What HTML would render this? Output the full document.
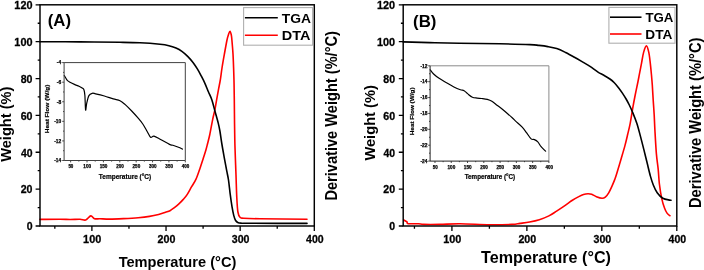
<!DOCTYPE html>
<html><head><meta charset="utf-8"><style>
html,body{margin:0;padding:0;background:#fff;}
body{width:704px;height:270px;overflow:hidden;}
svg{display:block;will-change:transform;}
text{font-family:"Liberation Sans", sans-serif;}
</style></head><body>
<svg width="704" height="270" viewBox="0 0 704 270" font-family='"Liberation Sans", sans-serif'>
<rect width="704" height="270" fill="#fff"/>
<path d="M35.60,226.00H40.00 M35.60,189.13H40.00 M35.60,152.27H40.00 M35.60,115.40H40.00 M35.60,78.53H40.00 M35.60,41.67H40.00 M35.60,4.80H40.00 M37.70,207.57H40.00 M37.70,170.70H40.00 M37.70,133.83H40.00 M37.70,96.97H40.00 M37.70,60.10H40.00 M37.70,23.23H40.00 M91.89,226.00V230.90 M166.03,226.00V230.90 M240.16,226.00V230.90 M314.30,226.00V230.90 M54.83,226.00V228.80 M128.96,226.00V228.80 M203.10,226.00V228.80 M277.23,226.00V228.80" stroke="#000" stroke-width="1.3" fill="none"/>
<path d="M40.00,219.40 C43.33,219.37 55.00,219.18 60.00,219.20 C65.00,219.22 66.67,219.48 70.00,219.50 C73.33,219.52 77.38,219.22 80.00,219.30 C82.62,219.38 83.90,220.57 85.70,220.00 C87.50,219.43 89.33,216.12 90.80,215.90 C92.27,215.68 92.97,218.22 94.50,218.70 C96.03,219.18 97.45,218.73 100.00,218.80 C102.55,218.87 105.90,219.13 109.80,219.10 C113.70,219.07 118.67,218.83 123.40,218.60 C128.13,218.37 133.85,218.07 138.20,217.70 C142.55,217.33 146.10,216.93 149.50,216.40 C152.90,215.87 155.93,215.18 158.60,214.50 C161.27,213.82 163.60,212.93 165.50,212.30 C167.40,211.67 168.52,211.48 170.00,210.70 C171.48,209.92 172.92,208.73 174.40,207.60 C175.88,206.47 177.42,205.27 178.90,203.90 C180.38,202.53 181.93,200.95 183.30,199.40 C184.67,197.85 185.72,196.72 187.10,194.60 C188.48,192.48 190.13,189.23 191.60,186.70 C193.07,184.17 194.53,182.37 195.90,179.40 C197.27,176.43 198.60,172.32 199.80,168.90 C201.00,165.48 202.08,162.05 203.10,158.90 C204.12,155.75 205.15,152.57 205.90,150.00 C206.65,147.43 206.95,146.08 207.60,143.50 C208.25,140.92 208.95,138.53 209.80,134.50 C210.65,130.47 211.85,123.45 212.70,119.30 C213.55,115.15 214.23,112.93 214.90,109.60 C215.57,106.27 216.08,102.75 216.70,99.30 C217.32,95.85 218.00,92.12 218.60,88.90 C219.20,85.68 219.73,83.48 220.30,80.00 C220.87,76.52 221.32,72.33 222.00,68.00 C222.68,63.67 223.57,58.67 224.40,54.00 C225.23,49.33 226.32,43.25 227.00,40.00 C227.68,36.75 228.00,35.97 228.50,34.50 C229.00,33.03 229.53,31.12 230.00,31.20 C230.47,31.28 230.98,33.53 231.30,35.00 C231.62,36.47 231.62,36.83 231.90,40.00 C232.18,43.17 232.72,49.33 233.00,54.00 C233.28,58.67 233.43,63.50 233.60,68.00 C233.77,72.50 233.88,75.67 234.00,81.00 C234.12,86.33 234.17,90.17 234.30,100.00 C234.43,109.83 234.52,127.50 234.80,140.00 C235.08,152.50 235.67,165.37 236.00,175.00 C236.33,184.63 236.48,191.63 236.80,197.80 C237.12,203.97 237.37,208.75 237.90,212.00 C238.43,215.25 239.05,216.27 240.00,217.30 C240.95,218.33 240.27,217.95 243.60,218.20 C246.93,218.45 249.43,218.63 260.00,218.80 C270.57,218.97 299.17,219.13 307.00,219.20" stroke="#ff0000" stroke-width="1.6" fill="none" stroke-linejoin="round" stroke-linecap="round"/>
<path d="M40.00,41.70 C46.67,41.73 66.67,41.80 80.00,41.90 C93.33,42.00 110.00,42.15 120.00,42.30 C130.00,42.45 133.33,42.47 140.00,42.80 C146.67,43.13 155.18,43.82 160.00,44.30 C164.82,44.78 166.23,45.07 168.90,45.70 C171.57,46.33 173.83,47.15 176.00,48.10 C178.17,49.05 179.92,49.98 181.90,51.40 C183.88,52.82 186.05,54.75 187.90,56.60 C189.75,58.45 191.40,60.40 193.00,62.50 C194.60,64.60 196.13,66.97 197.50,69.20 C198.87,71.43 199.97,73.55 201.20,75.90 C202.43,78.25 203.68,80.62 204.90,83.30 C206.12,85.98 207.33,89.22 208.50,92.00 C209.67,94.78 210.80,96.72 211.90,100.00 C213.00,103.28 214.03,107.80 215.10,111.70 C216.17,115.60 217.50,120.18 218.30,123.40 C219.10,126.62 219.33,127.73 219.90,131.00 C220.47,134.27 220.97,138.53 221.70,143.00 C222.43,147.47 223.47,153.18 224.30,157.80 C225.13,162.42 226.00,167.00 226.70,170.70 C227.40,174.40 227.92,176.08 228.50,180.00 C229.08,183.92 229.62,189.75 230.20,194.20 C230.78,198.65 231.40,203.13 232.00,206.70 C232.60,210.27 233.20,213.30 233.80,215.60 C234.40,217.90 234.87,219.32 235.60,220.50 C236.33,221.68 237.17,222.25 238.20,222.70 C239.23,223.15 239.83,223.10 241.80,223.20 C243.77,223.30 239.13,223.27 250.00,223.30 C260.87,223.33 297.50,223.38 307.00,223.40" stroke="#000" stroke-width="1.6" fill="none" stroke-linejoin="round" stroke-linecap="round"/>
<rect x="40.00" y="4.80" width="274.30" height="221.20" stroke="#000" stroke-width="1.45" fill="none"/>
<text x="26.63" y="230.28" font-size="11.582" font-weight="bold" fill="#000" stroke="#000" stroke-width="0.3" textLength="5.85" lengthAdjust="spacingAndGlyphs">0</text>
<text x="20.68" y="193.42" font-size="11.582" font-weight="bold" fill="#000" stroke="#000" stroke-width="0.3" textLength="11.81" lengthAdjust="spacingAndGlyphs">20</text>
<text x="20.89" y="156.55" font-size="11.582" font-weight="bold" fill="#000" stroke="#000" stroke-width="0.3" textLength="11.59" lengthAdjust="spacingAndGlyphs">40</text>
<text x="20.66" y="119.68" font-size="11.582" font-weight="bold" fill="#000" stroke="#000" stroke-width="0.3" textLength="11.83" lengthAdjust="spacingAndGlyphs">60</text>
<text x="20.71" y="82.82" font-size="11.582" font-weight="bold" fill="#000" stroke="#000" stroke-width="0.3" textLength="11.78" lengthAdjust="spacingAndGlyphs">80</text>
<text x="14.37" y="45.95" font-size="11.582" font-weight="bold" fill="#000" stroke="#000" stroke-width="0.3" textLength="18.14" lengthAdjust="spacingAndGlyphs">100</text>
<text x="14.37" y="9.08" font-size="11.582" font-weight="bold" fill="#000" stroke="#000" stroke-width="0.3" textLength="18.14" lengthAdjust="spacingAndGlyphs">120</text>
<text x="83.11" y="242.53" font-size="11.582" font-weight="bold" fill="#000" stroke="#000" stroke-width="0.3" textLength="18.14" lengthAdjust="spacingAndGlyphs">100</text>
<text x="157.56" y="242.53" font-size="11.582" font-weight="bold" fill="#000" stroke="#000" stroke-width="0.3" textLength="17.82" lengthAdjust="spacingAndGlyphs">200</text>
<text x="231.82" y="242.52" font-size="11.566" font-weight="bold" fill="#000" stroke="#000" stroke-width="0.3" textLength="17.68" lengthAdjust="spacingAndGlyphs">300</text>
<text x="306.04" y="242.53" font-size="11.582" font-weight="bold" fill="#000" stroke="#000" stroke-width="0.3" textLength="17.60" lengthAdjust="spacingAndGlyphs">400</text>
<text x="118.64" y="266.80" font-size="15.552" font-weight="bold" fill="#000" textLength="117.70" lengthAdjust="spacingAndGlyphs">Temperature (°C)</text>
<text transform="translate(11.30,161.81) rotate(-90)" x="0" y="0" font-size="14.390" font-weight="bold" fill="#000" textLength="75.25" lengthAdjust="spacingAndGlyphs">Weight (%)</text>
<text transform="translate(337.10,200.58) rotate(-90)" x="0" y="0" font-size="15.698" font-weight="bold" fill="#000" textLength="169.51" lengthAdjust="spacingAndGlyphs">Derivative Weight (%/°C)</text>
<text x="47.76" y="26.29" font-size="16.399" font-weight="bold" fill="#000" textLength="23.28" lengthAdjust="spacingAndGlyphs">(A)</text>
<rect x="243.6" y="7.6" width="69.00" height="37.60" stroke="#b0b0b0" stroke-width="1.1" fill="#fff"/>
<path d="M244.9,17.8H277.8" stroke="#000" stroke-width="1.6"/>
<path d="M244.9,35.3H277.8" stroke="#ff0000" stroke-width="1.6"/>
<text x="281.85" y="22.56" font-size="13.559" font-weight="bold" fill="#000" textLength="29.21" lengthAdjust="spacingAndGlyphs">TGA</text>
<text x="281.73" y="40.30" font-size="13.663" font-weight="bold" fill="#000" textLength="28.64" lengthAdjust="spacingAndGlyphs">DTA</text>
<path d="M70.65,160.50V162.40 M87.03,160.50V162.40 M103.41,160.50V162.40 M119.79,160.50V162.40 M136.16,160.50V162.40 M152.54,160.50V162.40 M168.92,160.50V162.40 M185.30,160.50V162.40 M78.84,160.50V161.60 M95.22,160.50V161.60 M111.60,160.50V161.60 M127.98,160.50V161.60 M144.35,160.50V161.60 M160.73,160.50V161.60 M177.11,160.50V161.60 M62.20,62.60H64.10 M62.20,82.18H64.10 M62.20,101.76H64.10 M62.20,121.34H64.10 M62.20,140.92H64.10 M62.20,160.50H64.10 M63.00,72.39H64.10 M63.00,91.97H64.10 M63.00,111.55H64.10 M63.00,131.13H64.10 M63.00,150.71H64.10" stroke="#333" stroke-width="0.9" fill="none"/>
<path d="M64.30,75.60 C64.52,75.97 65.10,77.00 65.60,77.80 C66.10,78.60 66.57,79.67 67.30,80.40 C68.03,81.13 68.82,81.53 70.00,82.20 C71.18,82.87 72.90,83.73 74.40,84.40 C75.90,85.07 77.70,85.60 79.00,86.20 C80.30,86.80 81.37,87.37 82.20,88.00 C83.03,88.63 83.55,88.73 84.00,90.00 C84.45,91.27 84.63,92.27 84.90,95.60 C85.17,98.93 85.30,108.72 85.60,110.00 C85.90,111.28 86.15,105.70 86.70,103.30 C87.25,100.90 87.98,97.27 88.90,95.60 C89.82,93.93 91.08,93.60 92.20,93.30 C93.32,93.00 93.57,93.35 95.60,93.80 C97.63,94.25 101.45,95.15 104.40,96.00 C107.35,96.85 110.70,98.12 113.30,98.90 C115.90,99.68 118.05,99.78 120.00,100.70 C121.95,101.62 123.05,102.68 125.00,104.40 C126.95,106.12 129.47,108.67 131.70,111.00 C133.93,113.33 136.55,116.23 138.40,118.40 C140.25,120.57 141.32,121.78 142.80,124.00 C144.28,126.22 146.00,129.48 147.30,131.70 C148.60,133.92 149.48,136.55 150.60,137.30 C151.72,138.05 152.33,135.83 154.00,136.20 C155.67,136.57 158.02,138.13 160.60,139.50 C163.18,140.87 167.45,143.43 169.50,144.40 C171.55,145.37 171.40,144.82 172.90,145.30 C174.40,145.78 176.90,146.67 178.50,147.30 C180.10,147.93 181.83,148.80 182.50,149.10" stroke="#000" stroke-width="1.2" fill="none" stroke-linejoin="round" stroke-linecap="round"/>
<path d="M64.10,62.60H185.30V160.50" stroke="#404040" stroke-width="1.0" fill="none"/>
<path d="M64.10,62.60V160.50H185.30" stroke="#404040" stroke-width="1.0" fill="none"/>
<text x="56.85" y="64.38" font-size="5.160" font-weight="bold" fill="#000" stroke="#000" stroke-width="0.25" textLength="4.25" lengthAdjust="spacingAndGlyphs">-4</text>
<text x="56.84" y="83.96" font-size="5.160" font-weight="bold" fill="#000" stroke="#000" stroke-width="0.25" textLength="4.42" lengthAdjust="spacingAndGlyphs">-6</text>
<text x="56.84" y="103.54" font-size="5.160" font-weight="bold" fill="#000" stroke="#000" stroke-width="0.25" textLength="4.39" lengthAdjust="spacingAndGlyphs">-8</text>
<text x="54.19" y="123.12" font-size="5.160" font-weight="bold" fill="#000" stroke="#000" stroke-width="0.25" textLength="7.09" lengthAdjust="spacingAndGlyphs">-10</text>
<text x="54.19" y="142.70" font-size="5.160" font-weight="bold" fill="#000" stroke="#000" stroke-width="0.25" textLength="7.08" lengthAdjust="spacingAndGlyphs">-12</text>
<text x="54.20" y="162.28" font-size="5.160" font-weight="bold" fill="#000" stroke="#000" stroke-width="0.25" textLength="6.90" lengthAdjust="spacingAndGlyphs">-14</text>
<text x="68.39" y="167.82" font-size="5.155" font-weight="bold" fill="#000" stroke="#000" stroke-width="0.25" textLength="4.97" lengthAdjust="spacingAndGlyphs">50</text>
<text x="83.29" y="167.82" font-size="5.155" font-weight="bold" fill="#000" stroke="#000" stroke-width="0.25" textLength="7.79" lengthAdjust="spacingAndGlyphs">100</text>
<text x="99.66" y="167.82" font-size="5.155" font-weight="bold" fill="#000" stroke="#000" stroke-width="0.25" textLength="7.79" lengthAdjust="spacingAndGlyphs">150</text>
<text x="116.18" y="167.82" font-size="5.155" font-weight="bold" fill="#000" stroke="#000" stroke-width="0.25" textLength="7.65" lengthAdjust="spacingAndGlyphs">200</text>
<text x="132.55" y="167.82" font-size="5.155" font-weight="bold" fill="#000" stroke="#000" stroke-width="0.25" textLength="7.65" lengthAdjust="spacingAndGlyphs">250</text>
<text x="148.99" y="167.82" font-size="5.148" font-weight="bold" fill="#000" stroke="#000" stroke-width="0.25" textLength="7.59" lengthAdjust="spacingAndGlyphs">300</text>
<text x="165.37" y="167.82" font-size="5.148" font-weight="bold" fill="#000" stroke="#000" stroke-width="0.25" textLength="7.59" lengthAdjust="spacingAndGlyphs">350</text>
<text x="181.78" y="167.82" font-size="5.155" font-weight="bold" fill="#000" stroke="#000" stroke-width="0.25" textLength="7.56" lengthAdjust="spacingAndGlyphs">400</text>
<text x="98.83" y="178.80" font-size="6.977" font-weight="bold" fill="#000" stroke="#000" stroke-width="0.2" textLength="52.40" lengthAdjust="spacingAndGlyphs">Temperature (°C)</text>
<text transform="translate(48.50,133.23) rotate(-90)" x="0" y="0" font-size="5.523" font-weight="bold" fill="#000" stroke="#000" stroke-width="0.2" textLength="48.56" lengthAdjust="spacingAndGlyphs">Heat Flow (W/g)</text>
<path d="M398.80,226.00H403.20 M398.80,189.13H403.20 M398.80,152.27H403.20 M398.80,115.40H403.20 M398.80,78.53H403.20 M398.80,41.67H403.20 M398.80,4.80H403.20 M400.90,207.57H403.20 M400.90,170.70H403.20 M400.90,133.83H403.20 M400.90,96.97H403.20 M400.90,60.10H403.20 M400.90,23.23H403.20 M451.92,226.00V230.90 M526.88,226.00V230.90 M601.84,226.00V230.90 M676.80,226.00V230.90 M414.44,226.00V228.80 M489.40,226.00V228.80 M564.36,226.00V228.80 M639.32,226.00V228.80" stroke="#000" stroke-width="1.3" fill="none"/>
<path d="M403.70,220.00 C404.00,220.17 404.95,220.68 405.50,221.00 C406.05,221.32 406.53,221.45 407.00,221.90 C407.47,222.35 406.38,223.40 408.30,223.70 C410.22,224.00 415.93,223.58 418.50,223.70 C421.07,223.82 420.12,224.28 423.70,224.40 C427.28,224.52 433.95,224.50 440.00,224.40 C446.05,224.30 451.73,223.73 460.00,223.80 C468.27,223.87 480.95,224.70 489.60,224.80 C498.25,224.90 506.83,224.63 511.90,224.40 C516.97,224.17 517.05,223.80 520.00,223.40 C522.95,223.00 526.38,222.62 529.60,222.00 C532.82,221.38 536.08,220.72 539.30,219.70 C542.52,218.68 546.02,217.33 548.90,215.90 C551.78,214.47 554.18,212.65 556.60,211.10 C559.02,209.55 561.50,207.88 563.40,206.60 C565.30,205.32 566.50,204.47 568.00,203.40 C569.50,202.33 570.68,201.28 572.40,200.20 C574.12,199.12 576.45,197.85 578.30,196.90 C580.15,195.95 581.88,195.03 583.50,194.50 C585.12,193.97 586.63,193.73 588.00,193.70 C589.37,193.67 590.30,193.80 591.70,194.30 C593.10,194.80 594.68,196.03 596.40,196.70 C598.12,197.37 600.52,198.22 602.00,198.30 C603.48,198.38 604.18,198.12 605.30,197.20 C606.42,196.28 607.58,194.65 608.70,192.80 C609.82,190.95 610.98,188.33 612.00,186.10 C613.02,183.87 614.03,181.40 614.80,179.40 C615.57,177.40 615.52,177.62 616.60,174.10 C617.68,170.58 619.90,163.08 621.30,158.30 C622.70,153.52 623.93,149.40 625.00,145.40 C626.07,141.40 626.83,137.98 627.70,134.30 C628.57,130.62 629.37,127.63 630.20,123.30 C631.03,118.97 631.87,113.02 632.70,108.30 C633.53,103.58 634.33,99.38 635.20,95.00 C636.07,90.62 637.20,85.47 637.90,82.00 C638.60,78.53 638.80,77.32 639.40,74.20 C640.00,71.08 640.80,66.93 641.50,63.30 C642.20,59.67 642.78,55.30 643.60,52.40 C644.42,49.50 645.53,45.90 646.40,45.90 C647.27,45.90 648.15,49.50 648.80,52.40 C649.45,55.30 649.87,59.67 650.30,63.30 C650.73,66.93 651.07,70.58 651.40,74.20 C651.73,77.82 652.00,80.70 652.30,85.00 C652.60,89.30 652.88,95.00 653.20,100.00 C653.52,105.00 653.92,110.00 654.20,115.00 C654.48,120.00 654.53,123.52 654.90,130.00 C655.27,136.48 655.85,147.33 656.40,153.90 C656.95,160.47 657.70,164.38 658.20,169.40 C658.70,174.42 658.82,179.18 659.40,184.00 C659.98,188.82 660.83,194.25 661.70,198.30 C662.57,202.35 663.68,205.78 664.60,208.30 C665.52,210.82 666.32,212.17 667.20,213.40 C668.08,214.63 669.45,215.32 669.90,215.70" stroke="#ff0000" stroke-width="1.6" fill="none" stroke-linejoin="round" stroke-linecap="round"/>
<path d="M403.20,41.90 C407.60,42.02 420.25,42.37 429.60,42.60 C438.95,42.83 447.57,43.10 459.30,43.30 C471.03,43.50 488.22,43.58 500.00,43.80 C511.78,44.02 523.52,44.33 530.00,44.60 C536.48,44.87 535.93,45.07 538.90,45.40 C541.87,45.73 544.83,46.07 547.80,46.60 C550.77,47.13 553.73,47.62 556.70,48.60 C559.67,49.58 562.65,51.07 565.60,52.50 C568.55,53.93 571.45,55.55 574.40,57.20 C577.35,58.85 580.70,60.87 583.30,62.40 C585.90,63.93 587.55,64.78 590.00,66.40 C592.45,68.02 595.68,70.62 598.00,72.10 C600.32,73.58 601.92,74.15 603.90,75.30 C605.88,76.45 608.17,77.77 609.90,79.00 C611.63,80.23 612.83,81.22 614.30,82.70 C615.77,84.18 617.35,86.17 618.70,87.90 C620.05,89.63 621.17,91.25 622.40,93.10 C623.63,94.95 624.95,97.02 626.10,99.00 C627.25,100.98 628.20,102.75 629.30,105.00 C630.40,107.25 631.45,109.45 632.70,112.50 C633.95,115.55 635.52,119.37 636.80,123.30 C638.08,127.23 639.23,131.75 640.40,136.10 C641.57,140.45 642.68,144.95 643.80,149.40 C644.92,153.85 646.00,158.35 647.10,162.80 C648.20,167.25 649.37,172.40 650.40,176.10 C651.43,179.80 652.17,182.22 653.30,185.00 C654.43,187.78 655.62,190.58 657.20,192.80 C658.78,195.02 660.68,197.08 662.80,198.30 C664.92,199.52 668.53,199.78 669.90,200.10 C671.27,200.42 670.82,200.18 671.00,200.20" stroke="#000" stroke-width="1.6" fill="none" stroke-linejoin="round" stroke-linecap="round"/>
<rect x="403.20" y="4.80" width="273.60" height="221.20" stroke="#000" stroke-width="1.45" fill="none"/>
<text x="389.23" y="230.28" font-size="11.582" font-weight="bold" fill="#000" stroke="#000" stroke-width="0.3" textLength="5.85" lengthAdjust="spacingAndGlyphs">0</text>
<text x="383.28" y="193.42" font-size="11.582" font-weight="bold" fill="#000" stroke="#000" stroke-width="0.3" textLength="11.81" lengthAdjust="spacingAndGlyphs">20</text>
<text x="383.49" y="156.55" font-size="11.582" font-weight="bold" fill="#000" stroke="#000" stroke-width="0.3" textLength="11.59" lengthAdjust="spacingAndGlyphs">40</text>
<text x="383.26" y="119.68" font-size="11.582" font-weight="bold" fill="#000" stroke="#000" stroke-width="0.3" textLength="11.83" lengthAdjust="spacingAndGlyphs">60</text>
<text x="383.31" y="82.82" font-size="11.582" font-weight="bold" fill="#000" stroke="#000" stroke-width="0.3" textLength="11.78" lengthAdjust="spacingAndGlyphs">80</text>
<text x="376.97" y="45.95" font-size="11.582" font-weight="bold" fill="#000" stroke="#000" stroke-width="0.3" textLength="18.14" lengthAdjust="spacingAndGlyphs">100</text>
<text x="376.97" y="9.08" font-size="11.582" font-weight="bold" fill="#000" stroke="#000" stroke-width="0.3" textLength="18.14" lengthAdjust="spacingAndGlyphs">120</text>
<text x="443.14" y="242.53" font-size="11.582" font-weight="bold" fill="#000" stroke="#000" stroke-width="0.3" textLength="18.14" lengthAdjust="spacingAndGlyphs">100</text>
<text x="518.41" y="242.53" font-size="11.582" font-weight="bold" fill="#000" stroke="#000" stroke-width="0.3" textLength="17.82" lengthAdjust="spacingAndGlyphs">200</text>
<text x="593.50" y="242.52" font-size="11.566" font-weight="bold" fill="#000" stroke="#000" stroke-width="0.3" textLength="17.68" lengthAdjust="spacingAndGlyphs">300</text>
<text x="668.54" y="242.53" font-size="11.582" font-weight="bold" fill="#000" stroke="#000" stroke-width="0.3" textLength="17.60" lengthAdjust="spacingAndGlyphs">400</text>
<text x="481.12" y="263.10" font-size="16.279" font-weight="bold" fill="#000" textLength="129.79" lengthAdjust="spacingAndGlyphs">Temperature (°C)</text>
<text transform="translate(375.30,160.61) rotate(-90)" x="0" y="0" font-size="14.826" font-weight="bold" fill="#000" textLength="75.45" lengthAdjust="spacingAndGlyphs">Weight (%)</text>
<text transform="translate(701.40,207.98) rotate(-90)" x="0" y="0" font-size="16.134" font-weight="bold" fill="#000" textLength="170.42" lengthAdjust="spacingAndGlyphs">Derivative Weight (%/°C)</text>
<text x="413.06" y="26.52" font-size="16.720" font-weight="bold" fill="#000" textLength="23.39" lengthAdjust="spacingAndGlyphs">(B)</text>
<rect x="608.9" y="7.4" width="66.10" height="35.80" stroke="#b0b0b0" stroke-width="1.1" fill="#fff"/>
<path d="M610,17.2H641.5" stroke="#000" stroke-width="1.6"/>
<path d="M610,34H641.5" stroke="#ff0000" stroke-width="1.6"/>
<text x="645.45" y="21.67" font-size="13.418" font-weight="bold" fill="#000" textLength="27.99" lengthAdjust="spacingAndGlyphs">TGA</text>
<text x="645.38" y="38.70" font-size="12.791" font-weight="bold" fill="#000" textLength="27.07" lengthAdjust="spacingAndGlyphs">DTA</text>
<path d="M434.98,161.10V163.00 M451.26,161.10V163.00 M467.53,161.10V163.00 M483.80,161.10V163.00 M500.08,161.10V163.00 M516.35,161.10V163.00 M532.63,161.10V163.00 M548.90,161.10V163.00 M443.12,161.10V162.20 M459.39,161.10V162.20 M475.67,161.10V162.20 M491.94,161.10V162.20 M508.22,161.10V162.20 M524.49,161.10V162.20 M540.76,161.10V162.20 M428.20,65.80H430.10 M428.20,81.68H430.10 M428.20,97.57H430.10 M428.20,113.45H430.10 M428.20,129.33H430.10 M428.20,145.22H430.10 M428.20,161.10H430.10 M429.00,73.74H430.10 M429.00,89.62H430.10 M429.00,105.51H430.10 M429.00,121.39H430.10 M429.00,137.27H430.10 M429.00,153.16H430.10" stroke="#333" stroke-width="0.9" fill="none"/>
<path d="M430.20,69.80 C430.77,70.50 432.12,72.58 433.60,74.00 C435.08,75.42 436.95,76.85 439.10,78.30 C441.25,79.75 444.03,81.25 446.50,82.70 C448.97,84.15 451.58,85.82 453.90,87.00 C456.22,88.18 458.70,89.18 460.40,89.80 C462.10,90.42 462.87,90.02 464.10,90.70 C465.33,91.38 466.42,92.82 467.80,93.90 C469.18,94.98 470.85,96.50 472.40,97.20 C473.95,97.90 475.55,97.88 477.10,98.10 C478.65,98.32 480.00,98.28 481.70,98.50 C483.40,98.72 485.60,98.93 487.30,99.40 C489.00,99.87 490.22,100.28 491.90,101.30 C493.58,102.32 495.50,104.05 497.40,105.50 C499.30,106.95 500.83,107.95 503.30,110.00 C505.77,112.05 510.15,115.95 512.20,117.80 C514.25,119.65 513.93,119.55 515.60,121.10 C517.27,122.65 520.35,125.13 522.20,127.10 C524.05,129.07 525.22,130.93 526.70,132.90 C528.18,134.87 529.82,137.78 531.10,138.90 C532.38,140.02 533.28,139.12 534.40,139.60 C535.52,140.08 536.68,140.62 537.80,141.80 C538.92,142.98 539.80,145.13 541.10,146.70 C542.40,148.27 544.85,150.45 545.60,151.20" stroke="#000" stroke-width="1.2" fill="none" stroke-linejoin="round" stroke-linecap="round"/>
<path d="M430.10,65.80H548.90V161.10" stroke="#8a8a8a" stroke-width="1.0" fill="none"/>
<path d="M430.10,65.80V161.10H548.90" stroke="#202020" stroke-width="1.0" fill="none"/>
<text x="420.39" y="67.58" font-size="5.160" font-weight="bold" fill="#000" stroke="#000" stroke-width="0.25" textLength="7.08" lengthAdjust="spacingAndGlyphs">-12</text>
<text x="420.40" y="83.46" font-size="5.160" font-weight="bold" fill="#000" stroke="#000" stroke-width="0.25" textLength="6.90" lengthAdjust="spacingAndGlyphs">-14</text>
<text x="420.39" y="99.34" font-size="5.160" font-weight="bold" fill="#000" stroke="#000" stroke-width="0.25" textLength="7.06" lengthAdjust="spacingAndGlyphs">-16</text>
<text x="420.39" y="115.22" font-size="5.160" font-weight="bold" fill="#000" stroke="#000" stroke-width="0.25" textLength="7.04" lengthAdjust="spacingAndGlyphs">-18</text>
<text x="420.39" y="131.11" font-size="5.160" font-weight="bold" fill="#000" stroke="#000" stroke-width="0.25" textLength="7.09" lengthAdjust="spacingAndGlyphs">-20</text>
<text x="420.39" y="146.99" font-size="5.160" font-weight="bold" fill="#000" stroke="#000" stroke-width="0.25" textLength="7.08" lengthAdjust="spacingAndGlyphs">-22</text>
<text x="420.40" y="162.88" font-size="5.160" font-weight="bold" fill="#000" stroke="#000" stroke-width="0.25" textLength="6.90" lengthAdjust="spacingAndGlyphs">-24</text>
<text x="432.72" y="168.82" font-size="5.155" font-weight="bold" fill="#000" stroke="#000" stroke-width="0.25" textLength="4.97" lengthAdjust="spacingAndGlyphs">50</text>
<text x="447.51" y="168.82" font-size="5.155" font-weight="bold" fill="#000" stroke="#000" stroke-width="0.25" textLength="7.79" lengthAdjust="spacingAndGlyphs">100</text>
<text x="463.79" y="168.82" font-size="5.155" font-weight="bold" fill="#000" stroke="#000" stroke-width="0.25" textLength="7.79" lengthAdjust="spacingAndGlyphs">150</text>
<text x="480.19" y="168.82" font-size="5.155" font-weight="bold" fill="#000" stroke="#000" stroke-width="0.25" textLength="7.65" lengthAdjust="spacingAndGlyphs">200</text>
<text x="496.47" y="168.82" font-size="5.155" font-weight="bold" fill="#000" stroke="#000" stroke-width="0.25" textLength="7.65" lengthAdjust="spacingAndGlyphs">250</text>
<text x="512.80" y="168.82" font-size="5.148" font-weight="bold" fill="#000" stroke="#000" stroke-width="0.25" textLength="7.59" lengthAdjust="spacingAndGlyphs">300</text>
<text x="529.07" y="168.82" font-size="5.148" font-weight="bold" fill="#000" stroke="#000" stroke-width="0.25" textLength="7.59" lengthAdjust="spacingAndGlyphs">350</text>
<text x="545.38" y="168.82" font-size="5.155" font-weight="bold" fill="#000" stroke="#000" stroke-width="0.25" textLength="7.56" lengthAdjust="spacingAndGlyphs">400</text>
<text x="464.73" y="179.40" font-size="6.395" font-weight="bold" fill="#000" stroke="#000" stroke-width="0.2" textLength="50.48" lengthAdjust="spacingAndGlyphs">Temperature (°C)</text>
<text transform="translate(414.30,135.23) rotate(-90)" x="0" y="0" font-size="5.669" font-weight="bold" fill="#000" stroke="#000" stroke-width="0.2" textLength="47.75" lengthAdjust="spacingAndGlyphs">Heat Flow (W/g)</text>
</svg>
</body></html>
